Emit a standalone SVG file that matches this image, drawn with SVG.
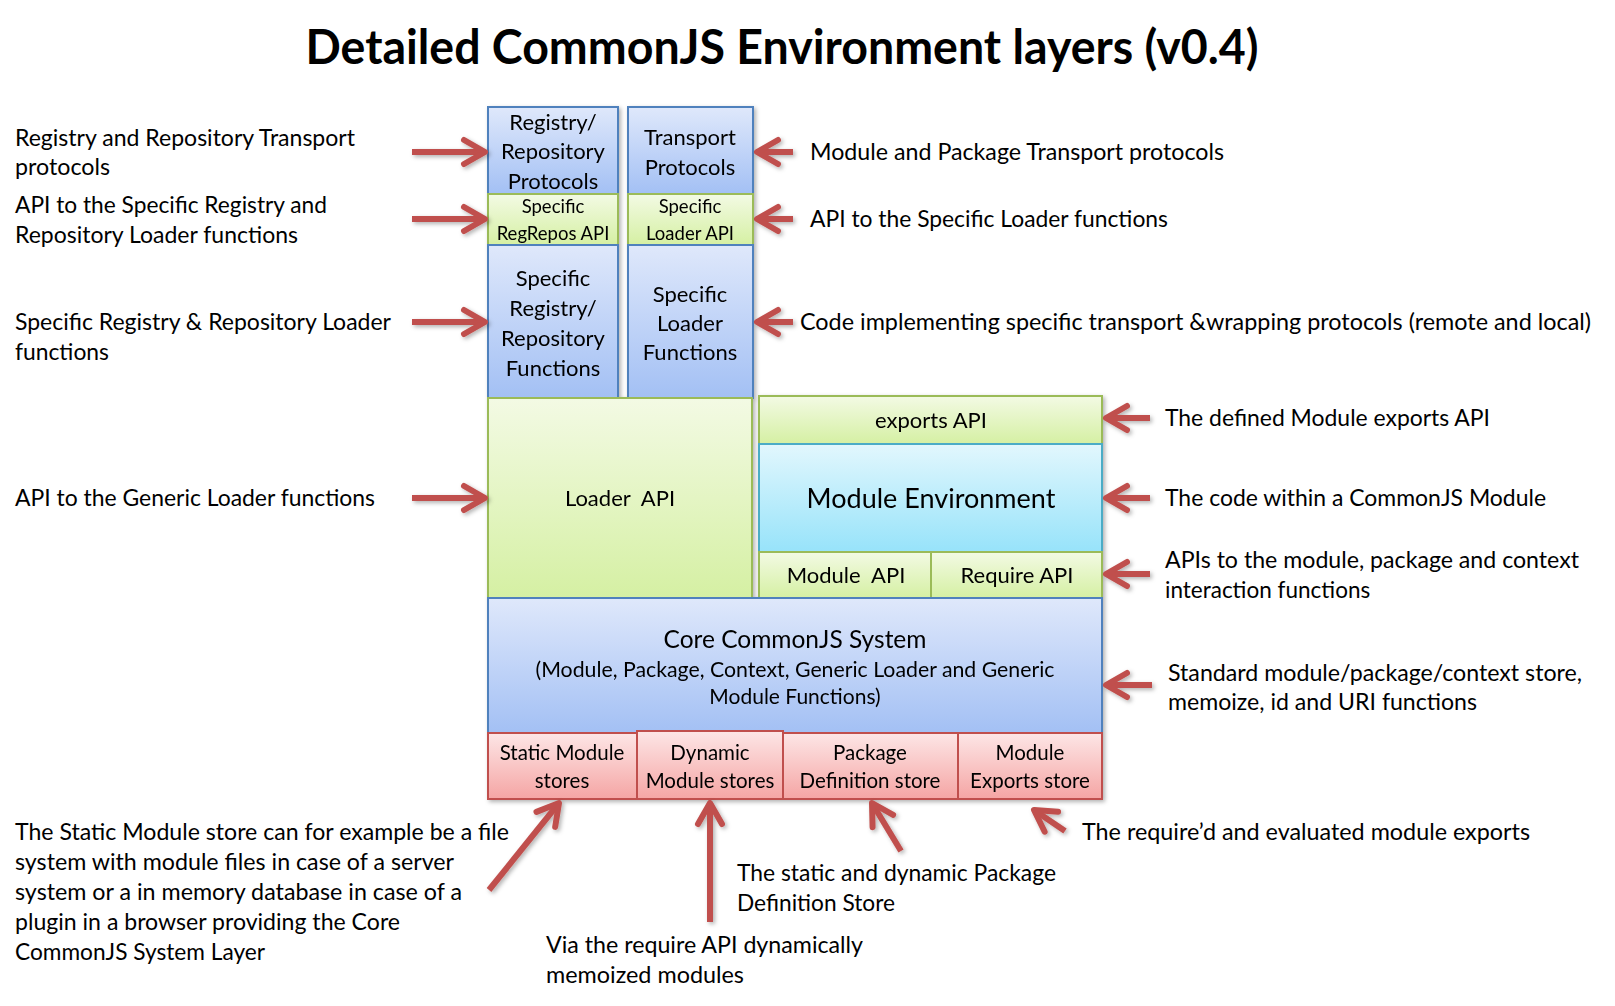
<svg xmlns="http://www.w3.org/2000/svg" width="1615" height="1006" viewBox="0 0 1615 1006">
<style>
text{font-family:Lato,"Open Sans","Liberation Sans",sans-serif;fill:#000}
.t{font-size:47px;font-weight:bold;text-anchor:middle}
.lbl{font-size:22.5px}
.bx{font-size:22px;text-anchor:middle}
.sm{font-size:18.5px;text-anchor:middle}
.blue{fill:url(#gBlue);stroke:#4f81bd;stroke-width:2}
.green{fill:url(#gGreen);stroke:#9bbb59;stroke-width:2}
.cyan{fill:url(#gCyan);stroke:#4bacc6;stroke-width:2}
.red{fill:url(#gRed);stroke:#c0504d;stroke-width:2}
.arr{stroke:#c0504d;stroke-width:6;fill:none;marker-end:url(#ah)}
</style>
<defs>
<linearGradient id="gBlue" x1="0" y1="0" x2="0" y2="1"><stop offset="0" stop-color="#dfe8fb"/><stop offset="1" stop-color="#a3c0f4"/></linearGradient>
<linearGradient id="gGreen" x1="0" y1="0" x2="0" y2="1"><stop offset="0" stop-color="#f3fae4"/><stop offset="1" stop-color="#d5f0a3"/></linearGradient>
<linearGradient id="gCyan" x1="0" y1="0" x2="0" y2="1"><stop offset="0" stop-color="#e2f7fd"/><stop offset="1" stop-color="#97e3fa"/></linearGradient>
<linearGradient id="gRed" x1="0" y1="0" x2="0" y2="1"><stop offset="0" stop-color="#fde6e6"/><stop offset="1" stop-color="#f5a5a4"/></linearGradient>
<filter id="sh" x="-10%" y="-10%" width="130%" height="130%"><feDropShadow dx="2" dy="2" stdDeviation="2" flood-color="#000" flood-opacity="0.3"/></filter>
<marker id="ah" markerUnits="userSpaceOnUse" viewBox="-28 -18 34 36" markerWidth="34" markerHeight="36" refX="0" refY="0" orient="auto" overflow="visible">
<path d="M-21,-12 L0,0 L-21,12" fill="none" stroke="#c0504d" stroke-width="6" stroke-linecap="round" stroke-linejoin="round"/>
</marker>
</defs>
<rect width="1615" height="1006" fill="#fff"/>
<text class="t" x="782" y="64" textLength="953" lengthAdjust="spacingAndGlyphs">Detailed CommonJS Environment layers (v0.4)</text>

<g filter="url(#sh)">
<g id="regrepo-protocols"><rect class="blue" x="488" y="107" width="130" height="87"/>
<text class="bx" x="553" y="130">Registry/</text><text class="bx" x="553" y="159">Repository</text><text class="bx" x="553" y="189">Protocols</text></g>
<g id="transport-protocols"><rect class="blue" x="628" y="107" width="125" height="87"/>
<text class="bx" x="690" y="145">Transport</text><text class="bx" x="690" y="175">Protocols</text></g>
<g id="specific-regrepos-api"><rect class="green" x="488" y="194" width="130" height="51"/>
<text class="sm" x="553" y="213">Specific</text><text class="sm" x="553" y="240">RegRepos API</text></g>
<g id="specific-loader-api"><rect class="green" x="628" y="194" width="125" height="51"/>
<text class="sm" x="690" y="213">Specific</text><text class="sm" x="690" y="240">Loader API</text></g>
<g id="specific-regrepo-functions"><rect class="blue" x="488" y="245" width="130" height="153"/>
<text class="bx" x="553" y="286">Specific</text><text class="bx" x="553" y="316">Registry/</text><text class="bx" x="553" y="346">Repository</text><text class="bx" x="553" y="376">Functions</text></g>
<g id="specific-loader-functions"><rect class="blue" x="628" y="245" width="125" height="153"/>
<text class="bx" x="690" y="302">Specific</text><text class="bx" x="690" y="331">Loader</text><text class="bx" x="690" y="360">Functions</text></g>
<g id="loader-api"><rect class="green" x="488" y="398" width="264" height="200"/>
<text class="bx" x="620" y="506" xml:space="preserve">Loader  API</text></g>
<g id="exports-api"><rect class="green" x="759" y="396" width="343" height="48"/>
<text class="bx" x="931" y="428">exports API</text></g>
<g id="module-environment"><rect class="cyan" x="759" y="444" width="343" height="108"/>
<text class="bx" style="font-size:27px" x="931" y="508">Module Environment</text></g>
<g id="module-api"><rect class="green" x="759" y="552" width="172" height="46"/>
<text class="bx" x="846" y="583" xml:space="preserve">Module  API</text></g>
<g id="require-api"><rect class="green" x="931" y="552" width="171" height="46"/>
<text class="bx" x="1017" y="583">Require API</text></g>
<g id="core"><rect class="blue" x="488" y="598" width="614" height="135"/>
<text class="bx" style="font-size:24.5px" x="795" y="648">Core CommonJS System</text>
<text class="bx" style="font-size:21px" x="795" y="677" textLength="519" lengthAdjust="spacingAndGlyphs">(Module, Package, Context, Generic Loader and Generic</text>
<text class="bx" style="font-size:21px" x="795" y="704">Module Functions)</text></g>
<g id="static-stores"><rect class="red" x="488" y="733" width="149" height="66"/>
<text class="bx" style="font-size:20.5px" x="562" y="760">Static Module</text><text class="bx" style="font-size:20.5px" x="562" y="788">stores</text></g>
<g id="dynamic-stores"><rect class="red" x="637" y="731" width="146" height="68"/>
<text class="bx" style="font-size:20.5px" x="710" y="760">Dynamic</text><text class="bx" style="font-size:20.5px" x="710" y="788">Module stores</text></g>
<g id="package-store"><rect class="red" x="783" y="733" width="175" height="66"/>
<text class="bx" style="font-size:20.5px" x="870" y="760">Package</text><text class="bx" style="font-size:20.5px" x="870" y="788">Definition store</text></g>
<g id="exports-store"><rect class="red" x="958" y="733" width="144" height="66"/>
<text class="bx" style="font-size:20.5px" x="1030" y="760">Module</text><text class="bx" style="font-size:20.5px" x="1030" y="788">Exports store</text></g>
</g>

<g id="connectors" filter="url(#sh)">
<line class="arr" x1="412" y1="152" x2="485" y2="152"/>
<line class="arr" x1="412" y1="219" x2="485" y2="219"/>
<line class="arr" x1="412" y1="322" x2="485" y2="322"/>
<line class="arr" x1="412" y1="498" x2="485" y2="498"/>
<line class="arr" x1="793" y1="152" x2="757" y2="152"/>
<line class="arr" x1="793" y1="219" x2="757" y2="219"/>
<line class="arr" x1="793" y1="322" x2="757" y2="322"/>
<line class="arr" x1="1150" y1="418" x2="1106" y2="418"/>
<line class="arr" x1="1150" y1="498" x2="1106" y2="498"/>
<line class="arr" x1="1150" y1="574" x2="1106" y2="574"/>
<line class="arr" x1="1152" y1="685" x2="1106" y2="685"/>
<line class="arr" x1="489" y1="890" x2="559" y2="803"/>
<line class="arr" x1="710" y1="922" x2="710" y2="803"/>
<line class="arr" x1="901" y1="851" x2="872" y2="803"/>
<line class="arr" x1="1065" y1="831" x2="1034" y2="810"/>
</g>

<g id="labels">
<text class="lbl" x="15" y="146" textLength="340" lengthAdjust="spacingAndGlyphs">Registry and Repository Transport</text>
<text class="lbl" x="15" y="175" textLength="95" lengthAdjust="spacingAndGlyphs">protocols</text>
<text class="lbl" x="15" y="213" textLength="312" lengthAdjust="spacingAndGlyphs">API to the Specific Registry and</text>
<text class="lbl" x="15" y="243" textLength="283" lengthAdjust="spacingAndGlyphs">Repository Loader functions</text>
<text class="lbl" x="15" y="330" textLength="376" lengthAdjust="spacingAndGlyphs">Specific Registry &amp; Repository Loader</text>
<text class="lbl" x="15" y="360" textLength="94" lengthAdjust="spacingAndGlyphs">functions</text>
<text class="lbl" x="15" y="506" textLength="360" lengthAdjust="spacingAndGlyphs">API to the Generic Loader functions</text>
<text class="lbl" x="15" y="840" textLength="494" lengthAdjust="spacingAndGlyphs">The Static Module store can for example be a file</text>
<text class="lbl" x="15" y="870" textLength="439" lengthAdjust="spacingAndGlyphs">system with module files in case of a server</text>
<text class="lbl" x="15" y="900" textLength="447" lengthAdjust="spacingAndGlyphs">system or a in memory database in case of a</text>
<text class="lbl" x="15" y="930" textLength="385" lengthAdjust="spacingAndGlyphs">plugin in a browser providing the Core</text>
<text class="lbl" x="15" y="960" textLength="250" lengthAdjust="spacingAndGlyphs">CommonJS System Layer</text>
<text class="lbl" x="810" y="160" textLength="414" lengthAdjust="spacingAndGlyphs">Module and Package Transport protocols</text>
<text class="lbl" x="810" y="227" textLength="358" lengthAdjust="spacingAndGlyphs">API to the Specific Loader functions</text>
<text class="lbl" x="800" y="330" textLength="791" lengthAdjust="spacingAndGlyphs">Code implementing specific transport &amp;wrapping protocols (remote and local)</text>
<text class="lbl" x="1165" y="426" textLength="325" lengthAdjust="spacingAndGlyphs">The defined Module exports API</text>
<text class="lbl" x="1165" y="506" textLength="381" lengthAdjust="spacingAndGlyphs">The code within a CommonJS Module</text>
<text class="lbl" x="1165" y="568" textLength="414" lengthAdjust="spacingAndGlyphs">APIs to the module, package and context</text>
<text class="lbl" x="1165" y="598">interaction functions</text>
<text class="lbl" x="1168" y="681" textLength="414" lengthAdjust="spacingAndGlyphs">Standard module/package/context store,</text>
<text class="lbl" x="1168" y="710" textLength="309" lengthAdjust="spacingAndGlyphs">memoize, id and URI functions</text>
<text class="lbl" x="1082" y="840" textLength="448" lengthAdjust="spacingAndGlyphs">The require’d and evaluated module exports</text>
<text class="lbl" x="737" y="881" textLength="319" lengthAdjust="spacingAndGlyphs">The static and dynamic Package</text>
<text class="lbl" x="737" y="911" textLength="158" lengthAdjust="spacingAndGlyphs">Definition Store</text>
<text class="lbl" x="546" y="953" textLength="317" lengthAdjust="spacingAndGlyphs">Via the require API dynamically</text>
<text class="lbl" x="546" y="983" textLength="198" lengthAdjust="spacingAndGlyphs">memoized modules</text>
</g>
</svg>
